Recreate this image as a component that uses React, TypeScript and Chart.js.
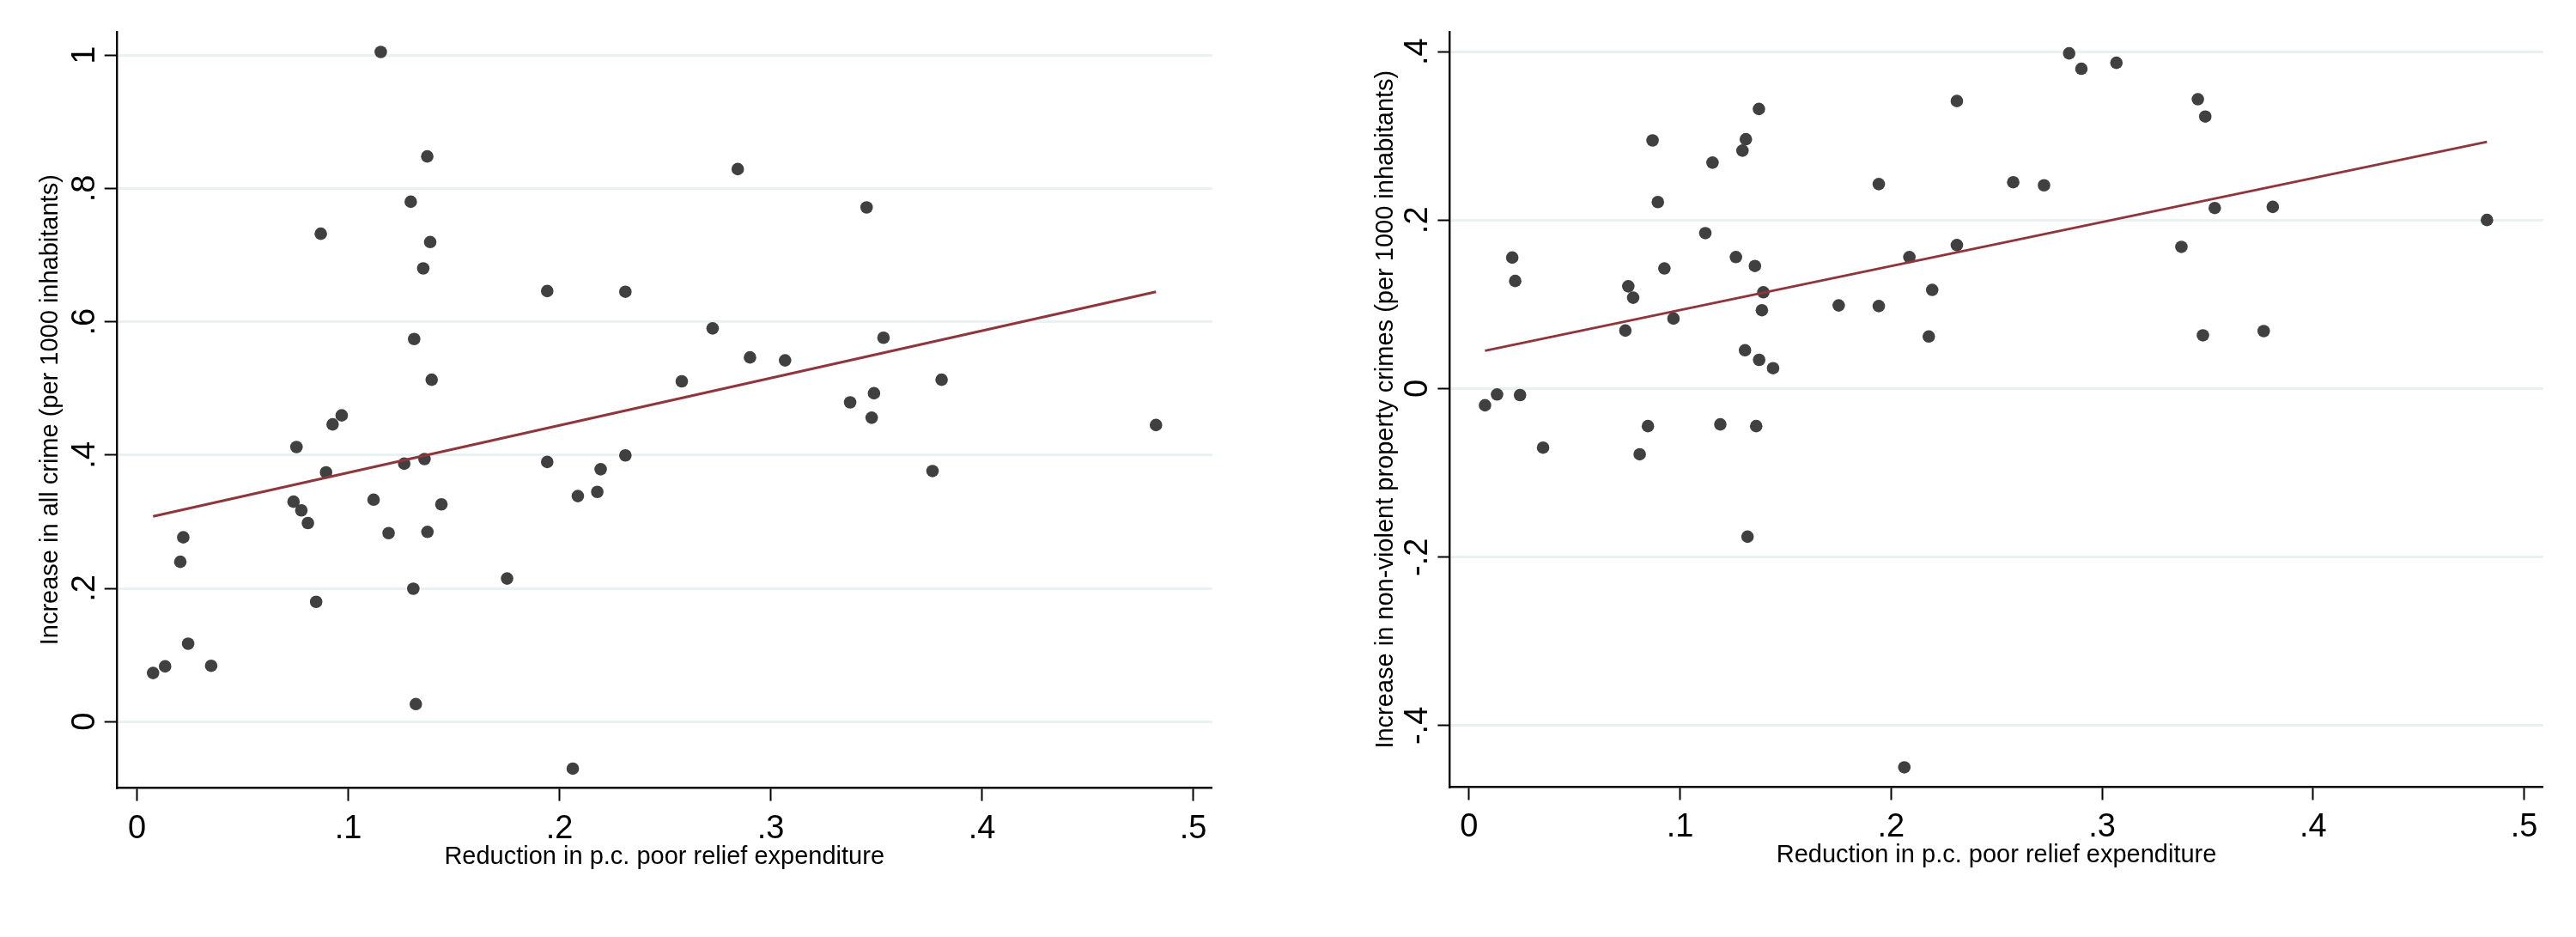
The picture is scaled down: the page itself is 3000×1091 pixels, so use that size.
import React, { useEffect, useRef } from 'react';
import { Chart, registerables } from 'chart.js';

Chart.register(...registerables);

// Reduction in per-capita poor relief expenditure (x), one entry per district
const reliefReduction = [
  0.0076, 0.0133, 0.0205, 0.0219, 0.0242, 0.0351, 0.0741, 0.0755, 0.0778, 0.0809,
  0.0848, 0.087, 0.0895, 0.0926, 0.0969, 0.112, 0.1154, 0.1191, 0.1265, 0.1296,
  0.1308, 0.1312, 0.132, 0.1355, 0.1361, 0.1374, 0.1375, 0.1388, 0.1395, 0.1441,
  0.1752, 0.1942, 0.1942, 0.2063, 0.2087, 0.2179, 0.2195, 0.2312, 0.2312, 0.2579,
  0.2725, 0.2844, 0.2902, 0.3068, 0.3376, 0.3454, 0.3478, 0.3489, 0.3534, 0.3766,
  0.3809, 0.4824,
];

// Increase in all crime (per 1000 inhabitants)
const allCrimeIncrease = [
  0.073, 0.0829, 0.2398, 0.2765, 0.1169, 0.0838, 0.33, 0.412, 0.317, 0.298,
  0.1797, 0.732, 0.374, 0.446, 0.4595, 0.333, 1.0048, 0.2828, 0.387, 0.78,
  0.1994, 0.574, 0.0263, 0.68, 0.394, 0.848, 0.2847, 0.7196, 0.513, 0.326,
  0.2147, 0.646, 0.3896, -0.0705, 0.3384, 0.3447, 0.3787, 0.645, 0.3994, 0.5106,
  0.59, 0.829, 0.5465, 0.542, 0.479, 0.7715, 0.456, 0.4927, 0.576, 0.376,
  0.513, 0.445,
];

// Increase in non-violent property crimes (per 1000 inhabitants)
const propertyCrimeIncrease = [
  -0.0197, -0.0069, 0.1556, 0.1278, -0.0076, -0.07, 0.069, 0.1215, 0.108, -0.0779,
  -0.0445, 0.2946, 0.2215, 0.1427, 0.0832, 0.1846, 0.2683, -0.0424, 0.1562, 0.2825,
  0.0456, 0.296, -0.1757, 0.1456, -0.0445, 0.332, 0.0342, 0.0931, 0.1144, 0.0243,
  0.0988, 0.2428, 0.098, -0.4495, 0.1562, 0.0619, 0.1172, 0.3414, 0.1704, 0.245,
  0.2414, 0.398, 0.3797, 0.3868, 0.1683, 0.3435, 0.0633, 0.323, 0.2144, 0.0683,
  0.2158, 0.2002,
];

// Fitted lines (endpoints)
const fitX = [0.0076, 0.4824];
const fitAllCrime = [0.308, 0.645];
const fitPropertyCrime = [0.045, 0.293];

const xTicks = [0, 0.1, 0.2, 0.3, 0.4, 0.5];
const yTicksAll = [0, 0.2, 0.4, 0.6, 0.8, 1];
const yTicksProperty = [-0.4, -0.2, 0, 0.2, 0.4];

const xTitle = 'Reduction in p.c. poor relief expenditure';
const yTitleAll = 'Increase in all crime (per 1000 inhabitants)';
const yTitleProperty = 'Increase in non-violent property crimes (per 1000 inhabitants)';

const FONT = '"Liberation Sans", Arial, Helvetica, sans-serif';

function stataFmt(v: number): string {
  if (v === 0) return '0';
  const s = String(Math.abs(v)).replace(/^0\./, '.');
  return (v < 0 ? '-' : '') + s;
}

const labelPlugin = {
  id: 'stataLabels',
  afterDraw(chart: any, _args: any, opts: any) {
    const ctx = chart.ctx as CanvasRenderingContext2D;
    const xs = chart.scales.x;
    const ys = chart.scales.y;
    const area = chart.chartArea;
    ctx.save();
    ctx.fillStyle = '#000000';
    ctx.textBaseline = 'alphabetic';
    ctx.textAlign = 'center';
    ctx.font = `38px ${FONT}`;
    for (const v of opts.xTicks) {
      ctx.fillText(stataFmt(v), xs.getPixelForValue(v), opts.xTickBaseline);
    }
    for (const v of opts.yTicks) {
      const y = ys.getPixelForValue(v);
      ctx.save();
      ctx.translate(opts.yTickBaseline, y);
      ctx.rotate(-Math.PI / 2);
      ctx.fillText(stataFmt(v), 0, 0);
      ctx.restore();
    }
    ctx.font = `29px ${FONT}`;
    ctx.fillText(opts.xTitle, (area.left + area.right) / 2, opts.xTitleBaseline);
    ctx.save();
    ctx.translate(opts.yTitleBaseline, (area.top + area.bottom) / 2);
    ctx.rotate(-Math.PI / 2);
    ctx.fillText(opts.yTitle, 0, 0);
    ctx.restore();
    ctx.restore();
  },
};

type PanelProps = {
  yValues: number[];
  fitY: number[];
  yTicks: number[];
  yTitle: string;
  xMin: number;
  xMax: number;
  yMin: number;
  yMax: number;
  yAxisWidth: number;
  xAxisHeight: number;
  padTop: number;
  padRight: number;
  yTickBaseline: number;
  xTickBaseline: number;
  yTitleBaseline: number;
  xTitleBaseline: number;
};

function ScatterPanel(p: PanelProps) {
  const ref = useRef<HTMLCanvasElement | null>(null);

  useEffect(() => {
    if (!ref.current) return;
    const points = reliefReduction.map((x, i) => ({ x, y: p.yValues[i] }));
    const fit = fitX.map((x, i) => ({ x, y: p.fitY[i] }));
    const chart = new Chart(ref.current, {
      type: 'scatter',
      data: {
        datasets: [
          {
            label: 'Fitted values',
            data: fit,
            showLine: true,
            borderColor: '#90353b',
            borderWidth: 3,
            pointRadius: 0,
            fill: false,
          } as any,
          {
            label: 'Observations',
            data: points,
            pointRadius: 7.3,
            pointBackgroundColor: '#404040',
            pointBorderWidth: 0,
            pointBorderColor: '#404040',
            showLine: false,
          } as any,
        ],
      },
      options: {
        responsive: false,
        devicePixelRatio: 1,
        animation: false,
        events: [],
        layout: { padding: { top: p.padTop, right: p.padRight, left: 0, bottom: 0 } },
        plugins: {
          legend: { display: false },
          tooltip: { enabled: false },
          stataLabels: {
            xTicks,
            yTicks: p.yTicks,
            xTitle,
            yTitle: p.yTitle,
            yTickBaseline: p.yTickBaseline,
            xTickBaseline: p.xTickBaseline,
            yTitleBaseline: p.yTitleBaseline,
            xTitleBaseline: p.xTitleBaseline,
          },
        } as any,
        scales: {
          x: {
            type: 'linear',
            min: p.xMin,
            max: p.xMax,
            afterBuildTicks: (scale: any) => {
              scale.ticks = xTicks.map((v) => ({ value: v }));
            },
            afterFit: (scale: any) => {
              scale.height = p.xAxisHeight;
            },
            ticks: { display: false },
            grid: {
              drawOnChartArea: false,
              drawTicks: true,
              tickLength: 15,
              tickColor: '#000000',
              tickWidth: 2,
            },
            border: { display: true, color: '#000000', width: 2.4 },
          },
          y: {
            type: 'linear',
            min: p.yMin,
            max: p.yMax,
            afterBuildTicks: (scale: any) => {
              scale.ticks = p.yTicks.map((v) => ({ value: v }));
            },
            afterFit: (scale: any) => {
              scale.width = p.yAxisWidth;
            },
            ticks: { display: false },
            grid: {
              color: '#e9f1f3',
              lineWidth: 3,
              drawTicks: true,
              tickLength: 14,
              tickColor: '#000000',
              tickWidth: 2,
            },
            border: { display: true, color: '#000000', width: 2.4 },
          },
        },
      } as any,
      plugins: [labelPlugin as any],
    });
    return () => chart.destroy();
  }, []);

  return (
    <canvas
      ref={ref}
      width={1500}
      height={1091}
      style={{ display: 'block', width: 1500, height: 1091 }}
    />
  );
}

export default function App() {
  useEffect(() => {
    document.body.style.margin = '0';
    document.body.style.background = '#ffffff';
  }, []);

  return (
    <div style={{ display: 'flex', width: 3000, height: 1091, overflow: 'hidden', background: '#ffffff' }}>
      <ScatterPanel
        yValues={allCrimeIncrease}
        fitY={fitAllCrime}
        yTicks={yTicksAll}
        yTitle={yTitleAll}
        xMin={-0.0097}
        xMax={0.509}
        yMin={-0.0997}
        yMax={1.0353}
        yAxisWidth={135.7}
        xAxisHeight={173.4}
        padTop={36.8}
        padRight={88.3}
        yTickBaseline={110}
        xTickBaseline={975.6}
        yTitleBaseline={67}
        xTitleBaseline={1006}
      />
      <ScatterPanel
        yValues={propertyCrimeIncrease}
        fitY={fitPropertyCrime}
        yTicks={yTicksProperty}
        yTitle={yTitleProperty}
        xMin={-0.0091}
        xMax={0.509}
        yMin={-0.473}
        yMax={0.4238}
        yAxisWidth={188.4}
        xAxisHeight={174.5}
        padTop={36.8}
        padRight={38.3}
        yTickBaseline={161.5}
        xTickBaseline={973.5}
        yTitleBaseline={121.5}
        xTitleBaseline={1004}
      />
    </div>
  );
}
